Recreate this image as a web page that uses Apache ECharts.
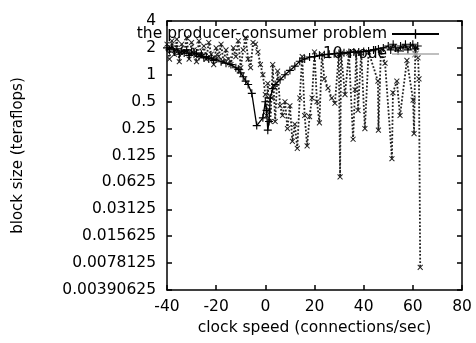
<!DOCTYPE html>
<html>
<head>
<meta charset="utf-8">
<script src="https://cdn.jsdelivr.net/npm/echarts@6/dist/echarts.min.js"></script>
<style>
  html, body { margin: 0; padding: 0; background: #fff; }
  #chart { width: 476px; height: 343px; }
</style>
</head>
<body>
<div id="chart"></div>
<script>
var xTicks = [-40, -20, 0, 20, 40, 60, 80];
var yTicks = [0.00390625, 0.0078125, 0.015625, 0.03125, 0.0625, 0.125, 0.25, 0.5, 1, 2, 4];

// the producer-consumer problem (solid, +)
var producerConsumer = [
  [-40, 2.0], [-39, 1.9], [-38, 2.1], [-37, 1.8], [-36, 1.95], [-35, 1.7], [-34, 1.85],
  [-33, 1.75], [-32, 1.9], [-31, 1.65], [-30, 1.8], [-29, 1.7], [-28, 1.75], [-27, 1.6],
  [-26, 1.7], [-25, 1.55], [-24, 1.6], [-23, 1.5], [-22, 1.55], [-21, 1.45], [-20, 1.5],
  [-18, 1.4], [-16, 1.35], [-14, 1.3], [-12, 1.2], [-11, 1.15], [-10, 1.05], [-9, 0.95],
  [-8, 0.85], [-7, 0.78], [-5.5, 0.62], [-3.5, 0.27], [-1, 0.33], [0, 0.5], [0.5, 0.4],
  [1, 0.24], [1.5, 0.3], [2, 0.55], [3, 0.7], [4, 0.78], [6, 0.88], [8, 1.0], [10, 1.12],
  [12, 1.25], [14, 1.42], [16, 1.5], [18, 1.58], [20, 1.6], [22, 1.65], [24, 1.68],
  [26, 1.7], [28, 1.72], [30, 1.74], [32, 1.76], [34, 1.78], [36, 1.8], [38, 1.8],
  [40, 1.82], [42, 1.85], [44, 1.9], [46, 1.95], [48, 2.0], [50, 2.1], [51, 1.9],
  [52, 2.2], [53, 2.0], [54, 1.85], [55, 2.1], [56, 2.0], [57, 2.2], [58, 1.9],
  [59, 2.1], [60, 2.2], [61, 1.95], [62, 2.1]
];

// 10-node (dotted, x)
var tenNode = [
  [-40, 2.2], [-39, 1.5], [-38, 2.4], [-37, 1.7], [-36, 2.5], [-35, 1.4], [-34, 2.2],
  [-33, 1.8], [-32, 2.6], [-31, 1.5], [-30, 2.3], [-29, 1.9], [-28, 1.4], [-27, 2.4],
  [-26, 1.6], [-25, 2.1], [-24, 1.5], [-23, 2.3], [-22, 1.7], [-21, 1.3], [-20, 2.0],
  [-19, 1.6], [-18, 2.2], [-17, 1.4], [-16, 1.9], [-15, 1.5], [-14, 1.3], [-13, 2.0],
  [-12, 1.6], [-11, 2.4], [-10, 1.2], [-9, 1.9], [-8, 2.6], [-7, 1.5], [-6, 1.2],
  [-5, 2.3], [-4, 2.2], [-3, 1.8], [-2, 1.3], [-1, 1.0], [0, 0.6], [0.5, 0.35],
  [1, 0.8], [1.5, 0.4], [2, 0.3], [2.5, 0.55], [3, 1.3], [4, 0.3], [5, 1.1], [6, 0.45],
  [7, 0.35], [8, 0.5], [9, 0.25], [10, 0.45], [11, 0.18], [12, 0.28], [13, 0.15],
  [14, 0.55], [15, 1.6], [16, 0.35], [17, 0.16], [18, 0.34], [19, 0.55], [20, 1.8],
  [21, 0.5], [22, 0.29], [23, 1.7], [24, 0.9], [25.5, 0.71], [27, 0.55], [28.3, 0.48],
  [29.9, 1.7], [30.4, 0.072], [30.8, 1.75], [32.4, 0.6], [34, 1.75], [35.7, 0.19],
  [36.5, 0.68], [37, 1.8], [37.7, 0.4], [39, 1.75], [40.5, 0.25], [42, 1.8],
  [45.8, 0.85], [46, 0.24], [47, 1.8], [48.7, 1.35], [51.5, 0.115], [51.9, 0.63],
  [53.5, 0.85], [54.8, 0.35], [57.6, 1.45], [60.1, 0.52], [60.5, 0.22], [61, 1.9],
  [62.1, 1.55], [62.5, 0.9], [63, 0.007]
];

var plusPath = 'path://M4.3,0H5.7V4.3H10V5.7H5.7V10H4.3V5.7H0V4.3H4.3Z';

var dom = document.getElementById('chart');
var myChart = echarts.init(dom, null, { renderer: 'canvas' });

var font = 'DejaVu Sans, Verdana, sans-serif';

var option = {
  animation: false,
  textStyle: { fontFamily: font },
  grid: { left: 167, right: 14, top: 21, bottom: 53 },
  legend: {
    orient: 'vertical',
    right: 36,
    top: 26,
    padding: 0,
    align: 'right',
    itemWidth: 47,
    itemHeight: 12,
    itemGap: 4,
    textStyle: { fontSize: 15.5, color: '#000', fontFamily: font },
    data: [
      { name: 'the producer-consumer problem' },
      { name: '10-node', itemStyle: { color: '#999' }, lineStyle: { color: '#aaa', type: 'solid', width: 1.5 } }
    ]
  },
  xAxis: [
    {
      type: 'value',
      min: xTicks[0],
      max: xTicks[xTicks.length - 1],
      interval: 20,
      name: 'clock speed (connections/sec)',
      nameLocation: 'middle',
      nameGap: 29,
      nameTextStyle: { fontSize: 15.5, color: '#000' },
      axisLine: { onZero: false, lineStyle: { color: '#000', width: 1.5 } },
      axisTick: { inside: true, length: 5, lineStyle: { color: '#000', width: 1.5 } },
      axisLabel: { fontSize: 15.5, color: '#000', margin: 9 },
      splitLine: { show: false }
    },
    {
      type: 'value',
      position: 'top',
      min: xTicks[0],
      max: xTicks[xTicks.length - 1],
      interval: 20,
      axisLine: { onZero: false, lineStyle: { color: '#000', width: 1.5 } },
      axisTick: { inside: true, length: 5, lineStyle: { color: '#000', width: 1.5 } },
      axisLabel: { show: false },
      splitLine: { show: false }
    }
  ],
  yAxis: [
    {
      type: 'log',
      logBase: 2,
      min: yTicks[0],
      max: yTicks[yTicks.length - 1],
      interval: 1,
      name: 'block size (teraflops)',
      nameLocation: 'middle',
      nameGap: 141,
      nameTextStyle: { fontSize: 15, color: '#000' },
      axisLine: { show: true, onZero: false, lineStyle: { color: '#000', width: 1.5 } },
      axisTick: { show: true, inside: true, length: 5, lineStyle: { color: '#000', width: 1.5 } },
      axisLabel: {
        fontSize: 15.5, color: '#000', margin: 11, padding: [6, 0, 0, 0],
        formatter: function (v) {
          var best = yTicks[0];
          yTicks.forEach(function (t) { if (Math.abs(Math.log2(t) - Math.log2(v)) < Math.abs(Math.log2(best) - Math.log2(v))) best = t; });
          return String(best);
        }
      },
      splitLine: { show: false }
    },
    {
      type: 'log',
      logBase: 2,
      position: 'right',
      min: yTicks[0],
      max: yTicks[yTicks.length - 1],
      interval: 1,
      axisLine: { show: true, onZero: false, lineStyle: { color: '#000', width: 1.5 } },
      axisTick: { show: true, inside: true, length: 5, lineStyle: { color: '#000', width: 1.5 } },
      axisLabel: { show: false },
      splitLine: { show: false }
    }
  ],
  series: [
    {
      name: 'the producer-consumer problem',
      type: 'line',
      data: producerConsumer,
      symbol: plusPath,
      symbolSize: 8,
      showAllSymbol: true,
      itemStyle: { color: '#000' },
      lineStyle: { color: '#000', width: 1.3 },
      z: 3
    },
    {
      name: '10-node',
      type: 'line',
      data: tenNode,
      symbol: plusPath,
      symbolSize: 7,
      symbolRotate: 45,
      showAllSymbol: true,
      itemStyle: { color: '#222' },
      lineStyle: { color: '#222', width: 1.8, type: 'dotted' },
      z: 2
    }
  ]
};

myChart.setOption(option);
window.addEventListener('resize', myChart.resize);
</script>
</body>
</html>
